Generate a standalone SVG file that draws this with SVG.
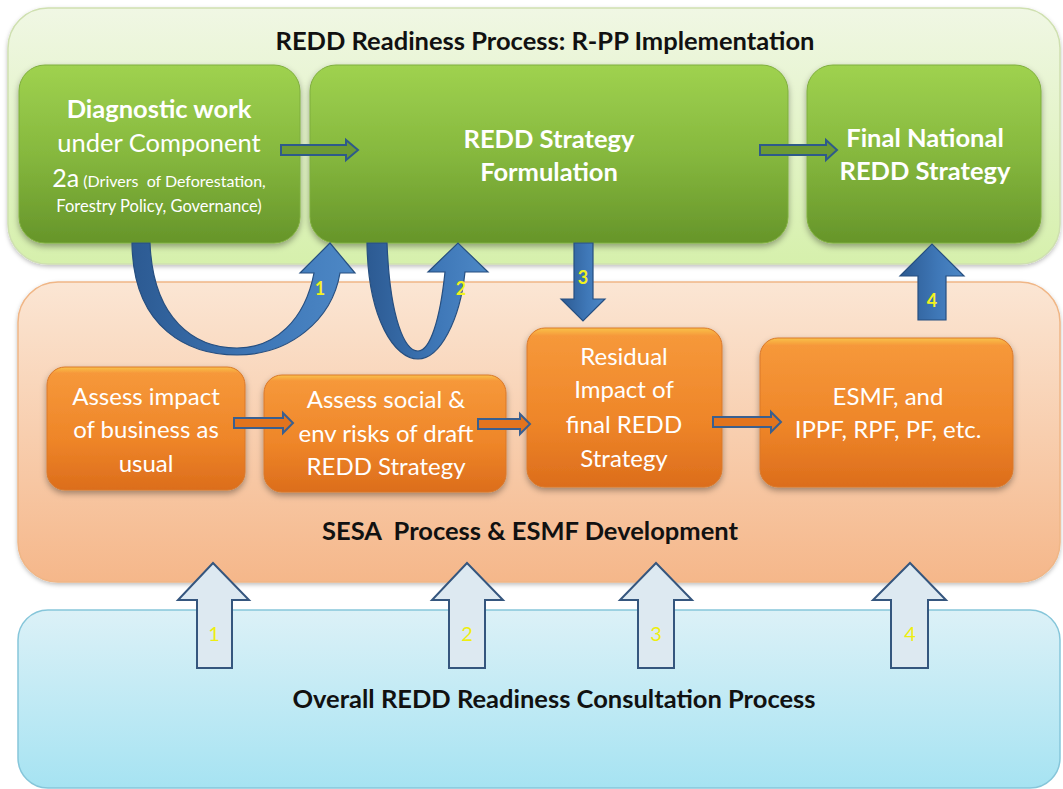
<svg xmlns="http://www.w3.org/2000/svg" width="1063" height="789" viewBox="0 0 1063 789">
<defs>
  <linearGradient id="gCont" x1="0" y1="0" x2="0" y2="1">
    <stop offset="0" stop-color="#f0f7e4"/><stop offset="1" stop-color="#d6f0ac"/>
  </linearGradient>
  <linearGradient id="oCont" x1="0" y1="0" x2="0" y2="1">
    <stop offset="0" stop-color="#fbe6d4"/><stop offset="1" stop-color="#f5b78a"/>
  </linearGradient>
  <linearGradient id="bCont" x1="0" y1="0" x2="0" y2="1">
    <stop offset="0" stop-color="#dcf1f7"/><stop offset="1" stop-color="#a6e3f2"/>
  </linearGradient>
  <linearGradient id="gBox" x1="0" y1="0" x2="0" y2="1">
    <stop offset="0" stop-color="#9fd24f"/><stop offset="0.5" stop-color="#86b83e"/><stop offset="1" stop-color="#66952a"/>
  </linearGradient>
  <linearGradient id="oBox" x1="0" y1="0" x2="0" y2="1">
    <stop offset="0" stop-color="#f9c24a"/><stop offset="0.05" stop-color="#f6983a"/><stop offset="0.6" stop-color="#ee8528"/><stop offset="1" stop-color="#dc6d1c"/>
  </linearGradient>
  <linearGradient id="bArr" x1="0" y1="0" x2="1" y2="0">
    <stop offset="0" stop-color="#2c5a92"/><stop offset="0.6" stop-color="#3f78b8"/><stop offset="1" stop-color="#4d88c6"/>
  </linearGradient>
  <filter id="sh" x="-10%" y="-10%" width="120%" height="130%">
    <feDropShadow dx="0" dy="3" stdDeviation="3" flood-color="#000" flood-opacity="0.35"/>
  </filter>
  <filter id="shs" x="-10%" y="-10%" width="120%" height="130%">
    <feDropShadow dx="0" dy="2" stdDeviation="2" flood-color="#000" flood-opacity="0.25"/>
  </filter>
</defs>
<style>
  text { font-family: Lato, "Liberation Sans", sans-serif; }
  .hdr { font-size: 25.5px; font-weight: bold; fill: #111; text-anchor: middle; }
  .gt { font-size: 25.5px; font-weight: bold; fill: #fff; text-anchor: middle; }
  .gtn { font-size: 25.5px; font-weight: normal; fill: #fff; text-anchor: middle; }
  .ot { font-size: 24px; fill: #fff; text-anchor: middle; }
  .num { font-size: 18px; font-weight: bold; fill: #f2f21e; text-anchor: middle; }
  .numl { font-size: 20px; fill: #eeee10; text-anchor: middle; }
  .gbox { fill: url(#gBox); stroke: #7fae3e; stroke-width: 1; filter: url(#sh); }
  .obox { fill: url(#oBox); stroke: #d9782a; stroke-width: 1; filter: url(#sh); }
  .barr { fill: url(#bArr); stroke: #264f80; stroke-width: 1.2; }
  .larr { fill: #dde9f1; stroke: #35567e; stroke-width: 2; }
  .garr { fill: #6d9a34; stroke: #2e5a8a; stroke-width: 2; }
  .oarr { fill: #e2741e; stroke: #3a5f8f; stroke-width: 2; }
</style>

<!-- containers -->
<g id="container-rpp">
  <rect x="8" y="8" width="1052" height="256" rx="40" fill="url(#gCont)" stroke="#cfe0b0" stroke-width="1.5" filter="url(#shs)"/>
  <text class="hdr" x="545" y="50">REDD Readiness Process: R-PP Implementation</text>
</g>
<g id="container-sesa">
  <rect x="18" y="282" width="1042" height="300" rx="40" fill="url(#oCont)" stroke="#f0b686" stroke-width="1.5" filter="url(#shs)"/>
  <text class="hdr" x="530" y="540" xml:space="preserve">SESA  Process &amp; ESMF Development</text>
</g>
<g id="container-consult">
  <rect x="18" y="610" width="1042" height="178" rx="30" fill="url(#bCont)" stroke="#86c6da" stroke-width="1.5"/>
  <text class="hdr" x="554" y="708">Overall REDD Readiness Consultation Process</text>
</g>

<!-- green nodes -->
<g id="node-diagnostic">
  <rect class="gbox" x="19" y="65" width="281" height="178" rx="26"/>
  <text class="gt" x="159" y="118">Diagnostic work</text>
  <text class="gtn" x="159" y="152">under Component</text>
  <text x="159" y="187" fill="#fff" text-anchor="middle" xml:space="preserve"><tspan font-size="25px">2a</tspan><tspan font-size="16px"> (Drivers  of Deforestation,</tspan></text>
  <text x="159" y="212" fill="#fff" text-anchor="middle" font-size="16.5px">Forestry Policy, Governance)</text>
</g>
<g id="node-strategy">
  <rect class="gbox" x="310" y="65" width="478" height="178" rx="26"/>
  <text class="gt" x="549" y="148">REDD Strategy</text>
  <text class="gt" x="549" y="181">Formulation</text>
</g>
<g id="node-final">
  <rect class="gbox" x="807" y="65" width="234" height="178" rx="26"/>
  <text class="gt" x="925" y="147">Final National</text>
  <text class="gt" x="925" y="180">REDD Strategy</text>
</g>

<!-- orange nodes -->
<g id="node-bau">
  <rect class="obox" x="47" y="367" width="198" height="123" rx="18"/>
  <text class="ot" x="146" y="405">Assess impact</text>
  <text class="ot" x="146" y="438">of business as</text>
  <text class="ot" x="146" y="472">usual</text>
</g>
<g id="node-risks">
  <rect class="obox" x="264" y="375" width="242" height="117" rx="18"/>
  <text class="ot" x="386" y="408">Assess social &amp;</text>
  <text class="ot" x="386" y="442">env risks of draft</text>
  <text class="ot" x="386" y="475">REDD Strategy</text>
</g>
<g id="node-residual">
  <rect class="obox" x="527" y="328" width="195" height="159" rx="18"/>
  <text class="ot" x="624" y="365">Residual</text>
  <text class="ot" x="624" y="398">Impact of</text>
  <text class="ot" x="624" y="433">final REDD</text>
  <text class="ot" x="624" y="467">Strategy</text>
</g>
<g id="node-esmf">
  <rect class="obox" x="760" y="338" width="253" height="149" rx="18"/>
  <text class="ot" x="888" y="405">ESMF, and</text>
  <text class="ot" x="888" y="438">IPPF, RPF, PF, etc.</text>
</g>

<!-- connectors -->
<g id="connectors">
  <!-- green hollow arrows -->
  <path class="garr" d="M281,145 H346 V140 L358,150 L346,160 V155 H281 Z"/>
  <path class="garr" d="M760,145 H826 V140 L837,150 L826,160 V155 H760 Z"/>
  <!-- orange arrows -->
  <path class="oarr" d="M234,418 H283 V413 L293,423 L283,433 V428 H234 Z"/>
  <path class="oarr" d="M478,419 H520 V414 L530,424 L520,434 V429 H478 Z"/>
  <path class="oarr" d="M713,417 H771 V412 L781,422 L771,432 V427 H713 Z"/>

  <!-- curved arrow 1 -->
  <path class="barr" d="M132,243 C133,330 190,355 237,355 C290,355 332,320 340,273 L355,273 L330,243 L300,273 L314,273 C305,320 275,348 237,348 C195,348 153,320 150,243 Z"/>
  <text class="num" x="320" y="295">1</text>
  <!-- curved arrow 2 -->
  <path class="barr" d="M367,243 C368,320 395,359 418,359 C440,359 460,320 465,272 L488,272 L458,243 L428,272 L445,272 C440,320 430,351 418,351 C405,351 390,320 387,243 Z"/>
  <text class="num" x="461" y="295">2</text>

  <!-- straight arrow 3 down -->
  <path class="barr" d="M574,243 H593 V299 H605 L583,321 L561,299 H574 Z"/>
  <text class="num" x="583" y="284">3</text>
  <!-- straight arrow 4 up -->
  <path class="barr" d="M918,320 V276 H900 L932,244 L964,276 H946 V320 Z"/>
  <text class="num" x="932" y="307">4</text>

  <!-- light consultation arrows -->
  <path class="larr" d="M197,668 V600 H178 L213,563 L249,600 H232 V668 Z"/>
  <text class="numl" x="214" y="641">1</text>
  <path class="larr" d="M449,668 V600 H432 L467,563 L503,600 H485 V668 Z"/>
  <text class="numl" x="467" y="641">2</text>
  <path class="larr" d="M638,668 V600 H620 L656,563 L692,600 H674 V668 Z"/>
  <text class="numl" x="656" y="641">3</text>
  <path class="larr" d="M891,668 V600 H873 L910,563 L946,600 H928 V668 Z"/>
  <text class="numl" x="910" y="641">4</text>
</g>
</svg>
